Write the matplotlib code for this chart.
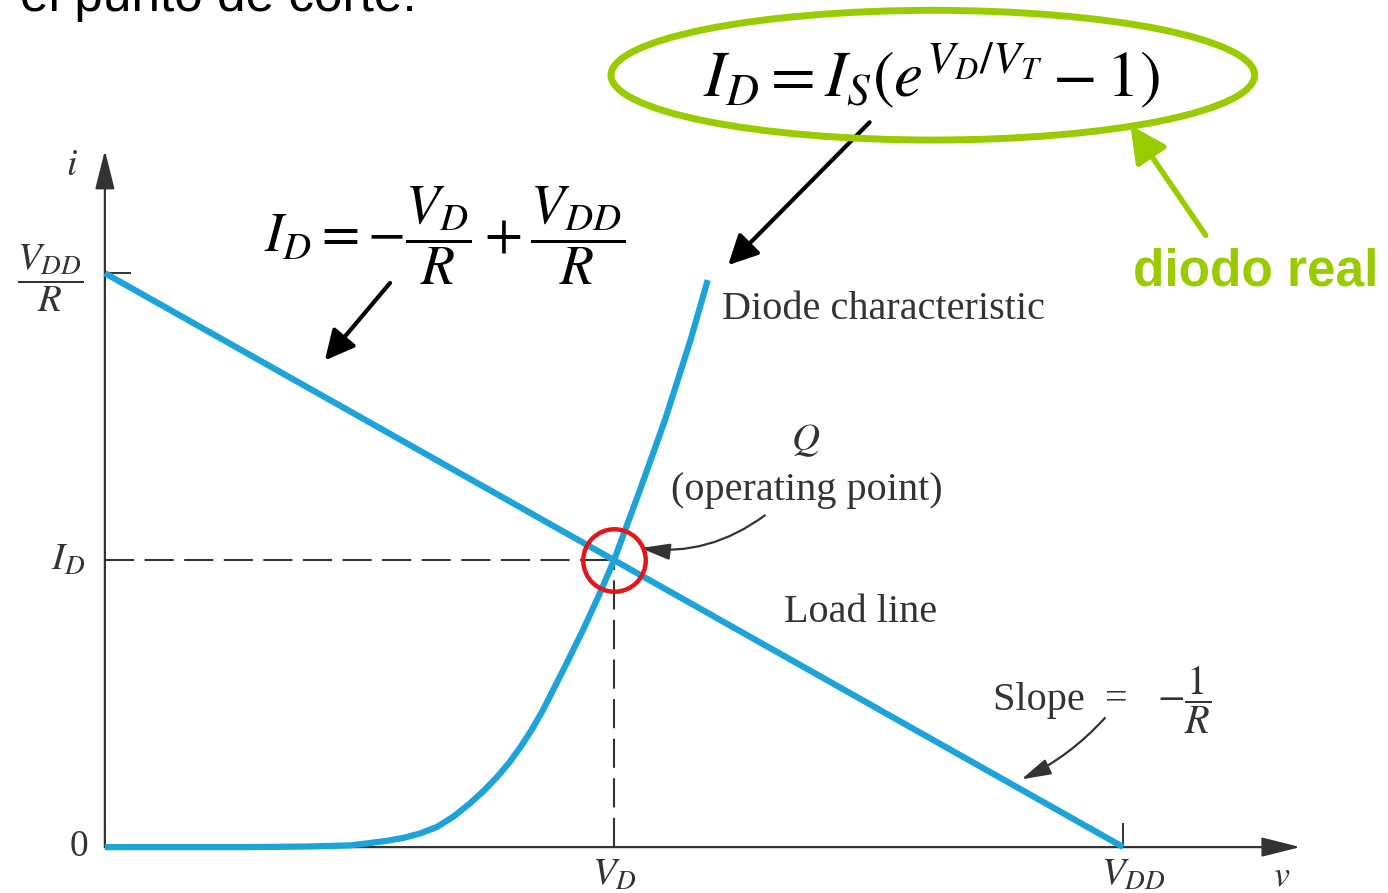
import matplotlib.pyplot as plt
from matplotlib.patches import Ellipse

plt.rcParams['mathtext.fontset'] = 'stix'
SERIF = 'Liberation Serif'
SANS = 'Liberation Sans'

# normalised units: V_DD = 1, V_DD/R = 1
v_dd = 1.0
i_max = 1.0
v_q, i_q = 0.5, 0.5

load_v = [0.0, v_dd]
load_i = [i_max, 0.0]

# diode characteristic, read point by point
diode_v = [0.0, 0.142, 0.200, 0.241, 0.260, 0.277, 0.293, 0.310, 0.326, 0.343,
           0.359, 0.372, 0.385, 0.397, 0.408, 0.419, 0.430, 0.450, 0.470,
           0.486, 0.500, 0.526, 0.550, 0.575, 0.592]
diode_i = [0.0, 0.0, 0.001, 0.003, 0.007, 0.011, 0.016, 0.024, 0.035, 0.054,
           0.077, 0.098, 0.122, 0.147, 0.174, 0.204, 0.238, 0.308, 0.380,
           0.442, 0.500, 0.625, 0.744, 0.883, 0.988]

blue = '#1BA3DA'
green = '#99CC00'
red = '#E3161C'
ink = '#333333'

fig = plt.figure(figsize=(13.88, 8.93), dpi=100)
ax = fig.add_axes([0, 0, 1, 1])
ax.set_xlim(-0.103, 1.260)
ax.set_ylim(-0.080, 1.476)
ax.axis('off')

# axes with arrow heads
head = '-|>,head_length=1.2,head_width=0.3'
ax.annotate('', xy=(0, 1.214), xytext=(0, 0),
            arrowprops=dict(arrowstyle=head, mutation_scale=20, lw=1.6,
                            color=ink, shrinkA=0, shrinkB=0))
ax.annotate('', xy=(1.174, 0), xytext=(0, 0),
            arrowprops=dict(arrowstyle=head, mutation_scale=20, lw=1.6,
                            color=ink, shrinkA=0, shrinkB=0))
ax.plot([0, 0.025], [i_max, i_max], color=ink, lw=1.4)
ax.plot([v_dd, v_dd], [0, 0.04], color=ink, lw=1.4)

# operating point guides
ax.plot([0, v_q], [i_q, i_q], color=ink, lw=1.5, dashes=(14, 5))
ax.plot([v_q, v_q], [0, i_q], color=ink, lw=1.5, dashes=(14, 5))

# load line and diode curve
ax.plot(load_v, load_i, color=blue, lw=4.5, solid_capstyle='butt', zorder=3)
ax.plot(diode_v, diode_i, color=blue, lw=4.5, solid_capstyle='butt',
        solid_joinstyle='round', zorder=3)
ax.plot(v_q, i_q, 'o', ms=45, mfc='none', mec=red, mew=3.2, zorder=4)

# axis labels
lab = dict(family=SERIF, color=ink, ha='center', va='center')
ax.text(-0.032, 1.188, '$i$', fontsize=27, **lab)
ax.text(-0.054, 0.991, r'$\dfrac{V_{DD}}{R}$', fontsize=28, **lab)
ax.text(-0.036, i_q, '$I_D$', fontsize=28, **lab)
ax.text(-0.025, 0.0, '0', fontsize=27, **lab)
ax.text(v_q, -0.049, '$V_D$', fontsize=28, **lab)
ax.text(v_dd + 0.01, -0.049, '$V_{DD}$', fontsize=28, **lab)
ax.text(1.156, -0.052, '$v$', fontsize=26, **lab)

# curve annotations
ax.text(0.606, 0.936, 'Diode characteristic', fontsize=29, family=SERIF,
        color=ink, va='center')
ax.text(0.688, 0.709, '$Q$', fontsize=28, **lab)
ax.text(0.689, 0.622, '(operating point)', fontsize=29, **lab)
ax.text(0.742, 0.409, 'Load line', fontsize=29, **lab)
ax.text(0.872, 0.256, 'Slope  =', fontsize=29, family=SERIF, color=ink, va='center')
ax.text(1.060, 0.256, r'$-\dfrac{1}{R}$', fontsize=29, **lab)

thin = dict(arrowstyle='-|>,head_length=0.9,head_width=0.25', mutation_scale=20,
            lw=1.6, color=ink, shrinkA=0, shrinkB=0)
ax.annotate('', xy=(0.526, 0.521), xytext=(0.648, 0.578),
            arrowprops=dict(connectionstyle='arc3,rad=-0.2', **thin))
ax.annotate('', xy=(0.900, 0.118), xytext=(0.982, 0.225),
            arrowprops=dict(connectionstyle='arc3,rad=-0.1', **thin))

# equations
ax.text(0.334, 1.066, r'$I_D = -\dfrac{V_D}{R} + \dfrac{V_{DD}}{R}$',
        fontsize=40, ha='center', va='center', color='black')
ax.add_patch(Ellipse((0.813, 1.345), 0.632, 0.226, fill=False,
                     ec=green, lw=5, zorder=5))
ax.text(0.812, 1.345, r'$I_D = I_S\left(e^{V_D/V_T} - 1\right)$',
        fontsize=47, ha='center', va='center', color='black')

thick = dict(arrowstyle='-|>,head_length=0.9,head_width=0.45', mutation_scale=20,
             lw=3, color='black', shrinkA=0, shrinkB=0)
ax.annotate('', xy=(0.216, 0.848), xytext=(0.280, 0.983), arrowprops=thick)
ax.annotate('', xy=(0.612, 1.014), xytext=(0.751, 1.263), arrowprops=thick)
ax.annotate('', xy=(1.007, 1.258), xytext=(1.081, 1.066),
            arrowprops=dict(arrowstyle='-|>,head_length=1.1,head_width=0.55',
                            mutation_scale=20, lw=4, color=green,
                            shrinkA=0, shrinkB=0))
ax.text(1.130, 1.002, 'diodo real', fontsize=37, fontweight='bold',
        family=SANS, color=green, ha='center', va='center')

ax.text(-0.0835, 1.456, 'el punto de corte:', fontsize=37, family=SANS,
        color='black', va='baseline')

fig.savefig('out.png', dpi=100)
